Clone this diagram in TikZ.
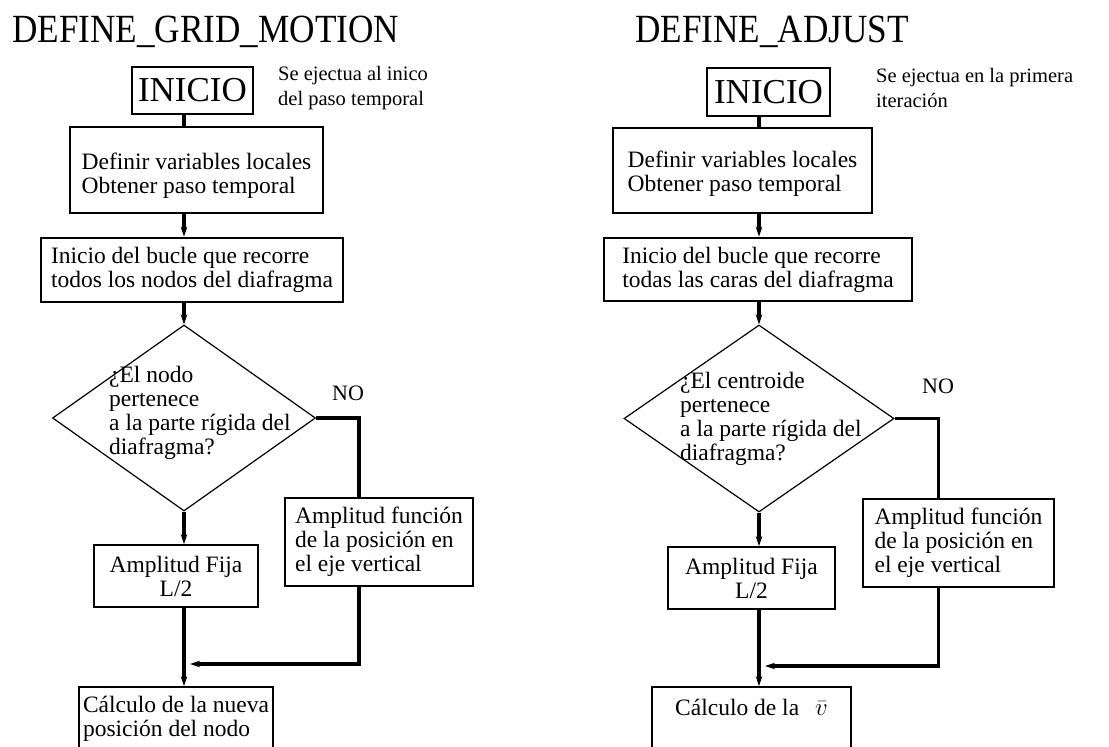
\documentclass[tikz,border=0pt]{standalone}
\usepackage{fontspec}
\setmainfont{Liberation Serif}
\newfontfamily\titlefont{Liberation Serif}[FakeStretch=0.88]
\usetikzlibrary{shapes.geometric,arrows.meta}
\begin{document}
\begin{tikzpicture}[x=1pt,y=-1pt,
  every node/.style={font=\fontsize{23.5}{24}\selectfont},
  title/.style={anchor=base west, inner sep=0, font=\titlefont\fontsize{40}{40}\selectfont},
  note/.style={anchor=west, inner sep=0, align=left, font=\fontsize{20.5}{25.5}\selectfont},
  startbox/.style={draw, line width=1.5pt, inner sep=0, font=\fontsize{35}{35}\selectfont},
  heavybox/.style={draw, line width=2.6pt, align=left, inner sep=0},
  lightbox/.style={draw, line width=1.6pt, inner sep=0},
  calcbox/.style={draw, line width=1.8pt, inner sep=0, align=left},
  decision/.style={draw, diamond, line width=1.2pt, inner sep=0},
  question/.style={anchor=west, inner sep=0, align=left},
  nolabel/.style={anchor=base west, inner sep=0, font=\fontsize{22}{22}\selectfont},
  link/.style={line width=3.3pt},
  arr/.style={line width=3.3pt, -{Stealth[length=10pt,width=6.5pt]}},
]
\useasboundingbox (0,0) rectangle (1109,747);
\fill[white] (0,0) rectangle (1109,747);
\clip (0,0) rectangle (1109,747);

% ---------- DEFINE_GRID_MOTION ----------
\node[title] (t1) at (12,42) {DEFINE\_GRID\_MOTION};
\node[startbox, minimum width=121pt, minimum height=47pt] (ini1) at (192.5,90.5) {INICIO};
\node[note] (n1) at (278,88) {Se ejectua al inico\\del paso temporal};
\node[heavybox, minimum width=253pt, minimum height=86pt, text height=51pt] (def1) at (196.5,170)
  {Definir variables locales\\Obtener paso temporal};
\node[heavybox, minimum width=302pt, minimum height=64pt] (loop1) at (192,270)
  {Inicio del bucle que recorre\\todos los nodos del diafragma};
\node[decision, minimum width=263pt, minimum height=186pt] (dec1) at (184,418) {};
\node[question] (q1) at (109,413) {¿El nodo\\pertenece\\a la parte rígida del\\diafragma?};
\node[nolabel] (no1) at (332,400) {NO};
\node[lightbox, align=left, minimum width=188pt, minimum height=88pt] (var1) at (379,542)
  {Amplitud función\\de la posición en\\el eje vertical};
\node[lightbox, align=center, minimum width=164pt, minimum height=62pt] (fix1) at (176,576)
  {Amplitud Fija\\L/2};
\node[calcbox, minimum width=194pt, minimum height=70pt, text depth=12pt] (calc1) at (176,722)
  {Cálculo de la nueva\\posición del nodo};
\coordinate (m1) at (190,664);

\draw[link] (ini1.south -| dec1.north) -- (def1.north -| dec1.north);
\draw[arr] (def1.south -| dec1.north) -- (loop1.north -| dec1.north);
\draw[arr] (loop1.south -| dec1.north) -- (dec1.north);
\draw[arr] (dec1.south) -- (dec1.south |- fix1.north);
\draw[arr] (fix1.south -| dec1.south) -- (calc1.north -| dec1.south);
\draw[link] (dec1.east) -| ([xshift=-20pt]var1.north);
\draw[arr] ([xshift=-20pt]var1.south) |- (m1);

% ---------- DEFINE_ADJUST ----------
\node[title] (t2) at (635,42) {DEFINE\_ADJUST};
\node[startbox, minimum width=123pt, minimum height=48pt] (ini2) at (768.5,92) {INICIO};
\node[note] (n2) at (876,88) {Se ejectua en la primera\\iteración};
\node[heavybox, minimum width=259pt, minimum height=85pt, text height=46pt] (def2) at (742.5,170.5)
  {Definir variables locales\\Obtener paso temporal};
\node[heavybox, minimum width=308pt, minimum height=63pt] (loop2) at (758,269.5)
  {Inicio del bucle que recorre\\todas las caras del diafragma};
\node[decision, minimum width=270pt, minimum height=187pt] (dec2) at (759,418.5) {};
\node[question] (q2) at (680,419) {¿El centroide\\pertenece\\a la parte rígida del\\diafragma?};
\node[nolabel] (no2) at (922,393) {NO};
\node[lightbox, align=left, minimum width=191pt, minimum height=88pt] (var2) at (958.5,543)
  {Amplitud función\\de la posición en\\el eje vertical};
\node[lightbox, align=center, minimum width=167pt, minimum height=62pt] (fix2) at (751.5,578)
  {Amplitud Fija\\L/2};
\node[calcbox, minimum width=199pt, minimum height=70pt, text depth=30pt] (calc2) at (751.5,722)
  {Cálculo de la\hspace{16pt}$\bar{v}$};
\coordinate (m2) at (765,666);

\draw[link] (ini2.south -| dec2.north) -- (def2.north -| dec2.north);
\draw[arr] (def2.south -| dec2.north) -- (loop2.north -| dec2.north);
\draw[arr] (loop2.south -| dec2.north) -- (dec2.north);
\draw[arr] (dec2.south) -- (dec2.south |- fix2.north);
\draw[arr] (fix2.south -| dec2.south) -- (calc2.north -| dec2.south);
\draw[link] (dec2.east) -| ([xshift=-20pt]var2.north);
\draw[arr] ([xshift=-20pt]var2.south) |- (m2);
\end{tikzpicture}
\end{document}
